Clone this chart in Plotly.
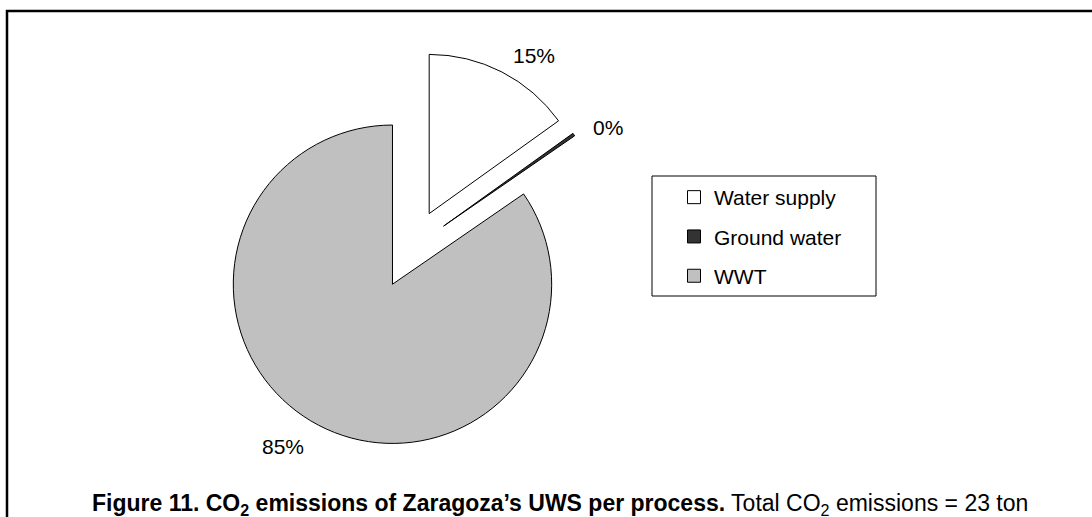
import plotly.graph_objects as go

# Data
categories = ["Water supply", "Ground water", "WWT"]
shares = [15.1, 0.3, 84.6]          # % of total CO2 emissions
colors = ["#FFFFFF", "#333333", "#C0C0C0"]
caption_bold = "Figure 11. CO<sub>2</sub> emissions of Zaragoza’s UWS per process."
caption_rest = " Total CO<sub>2</sub> emissions = 23 ton"

W, H = 1092, 517
FONT = "Liberation Sans, Arial, sans-serif"

total = sum(shares)
pct_text = [f"{round(v / total * 100)}%" for v in shares]

fig = go.Figure()

fig.add_trace(go.Pie(
    labels=categories,
    values=shares,
    sort=False,
    direction="clockwise",
    rotation=0,
    pull=[0.25] * len(shares),
    marker=dict(colors=colors, line=dict(color="black", width=1)),
    textinfo="none",
    showlegend=False,
    hoverinfo="label+percent",
    domain=dict(x=[212 / W, 610 / W], y=[1 - 448 / H, 1 - 50 / H]),
))

# legend entries (one group per category so spacing can be controlled)
for name, col in zip(categories, colors):
    fig.add_trace(go.Scatter(
        x=[None], y=[None], mode="markers", name=name, legendgroup=name,
        marker=dict(symbol="square", size=13, color=col,
                    line=dict(color="black", width=1)),
        showlegend=True,
    ))

# data-label positions (px) for each slice
label_pos = [(534, 55), (608, 128), (283, 446)]

annotations = [
    dict(text=t, xref="paper", yref="paper", x=px / W, y=1 - py / H,
         xanchor="center", yanchor="middle", showarrow=False,
         font=dict(family=FONT, size=21, color="black"))
    for t, (px, py) in zip(pct_text, label_pos)
]
annotations.append(
    dict(text="<b>" + caption_bold + "</b>" + caption_rest,
         xref="paper", yref="paper", x=560 / W, y=1 - 504.5 / H,
         xanchor="center", yanchor="middle", showarrow=False,
         font=dict(family=FONT, size=23, color="black"))
)

fig.update_layout(
    width=W, height=H,
    margin=dict(l=0, r=0, t=0, b=0, autoexpand=False),
    paper_bgcolor="white", plot_bgcolor="white",
    xaxis=dict(visible=False), yaxis=dict(visible=False),
    font=dict(family=FONT, color="black"),
    legend=dict(
        x=654 / W, y=1 - 177 / H, xanchor="left", yanchor="top",
        bgcolor="rgba(0,0,0,0)", borderwidth=0,
        font=dict(family=FONT, size=21, color="black"),
        traceorder="grouped", tracegroupgap=9, indentation=20,
    ),
    shapes=[
        # outer frame (extends past right and bottom edges)
        dict(type="rect", xref="paper", yref="paper",
             x0=7 / W, x1=1.02, y0=-0.05, y1=1 - 11 / H,
             line=dict(color="black", width=2.5), layer="above"),
        # legend box
        dict(type="rect", xref="paper", yref="paper",
             x0=652 / W, x1=876 / W, y0=1 - 296 / H, y1=1 - 176 / H,
             line=dict(color="black", width=1)),
    ],
    annotations=annotations,
)

fig.write_html("out.html", config={"displayModeBar": False},
               post_script="document.body.style.margin='0';")
